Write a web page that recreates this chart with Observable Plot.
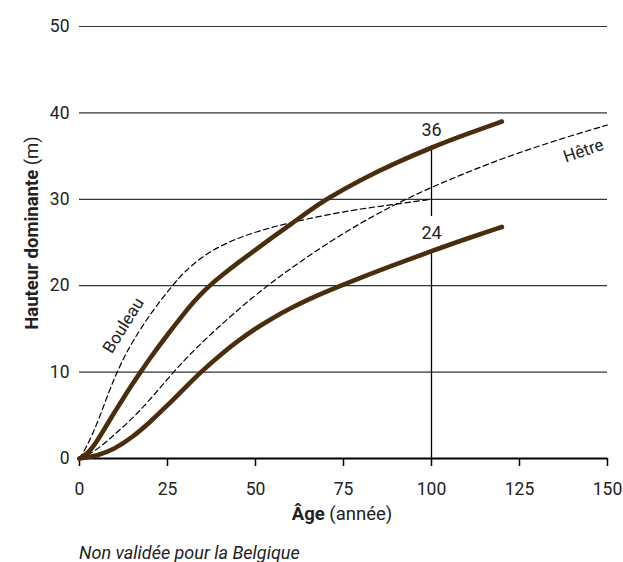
<!DOCTYPE html>
<html><head><meta charset="utf-8">
<script src="https://cdn.jsdelivr.net/npm/d3@7"></script>
<script src="https://cdn.jsdelivr.net/npm/@observablehq/plot@0.6"></script>
<style>
body{margin:0;background:#fff;font-family:Roboto,sans-serif;}
#chart{width:623px;height:562px;position:relative;overflow:hidden}
#chart svg{display:block}
.caption{margin:13px 0 0 79px;font-style:italic;font-size:18px;line-height:20px;color:#222}
</style></head><body><div id="chart"></div>
<script>
// Upper thick curve (reaches 36 m at 100 years)
const upperAge = [0,2.5,5,7.5,10,12.5,15,17.5,20,25,30,32.5,35,37.5,40,45,50,55,60,65,70,80,90,100,110,120];
const upperH   = [0,0.6,2.0,3.7,5.4,7.0,8.6,10.1,11.6,14.35,16.95,18.15,19.25,20.2,21.05,22.65,24.15,25.65,27.1,28.6,30.0,32.3,34.25,36.0,37.55,39.0];
// Lower thick curve (reaches 24 m at 100 years)
const lowerAge = [0,5,10,15,20,25,30,34.4,40,45,50,55,60,65,70,80,90,100,110,120];
const lowerH   = [0,0.3,1.1,2.45,4.2,6.15,8.2,10,12.0,13.6,15.05,16.3,17.4,18.4,19.3,20.95,22.5,24.0,25.45,26.8];
// Bouleau (dashed)
const bouleauAge = [0,2,5,7.5,10,12.5,15,20,26.3,30,35,40,45,50,55,60,70,80,90,100];
const bouleauH   = [0,1.3,4.0,6.8,9.4,11.6,13.5,16.7,20,21.7,23.4,24.6,25.5,26.2,26.8,27.3,28.2,28.9,29.45,30];
// Hêtre (dashed)
const hetreAge = [0,3,7,10,15,20,25,30,35,40,45,50,55,60,70,80,90,100,110,120,130,140,150];
const hetreH   = [0,0.5,1.7,2.8,4.6,6.8,9.2,11.5,13.5,15.4,17.2,18.9,20.5,22.0,24.8,27.3,29.5,31.4,33.1,34.7,36.1,37.4,38.6];

const xTicks = [0,25,50,75,100,125,150];
const yTicks = [0,10,20,30,40,50];
const refAge = 100;
const refValues = [36, 24];
const refSegments = [{y1:0,y2:24},{y1:28,y2:36}];
const refLabelY = [38.0, 26.1];
const speciesLabels = [
  {name:"Hêtre", x:143.2, y:35.6, angle:-19},
  {name:"Bouleau", x:12.5, y:15.4, angle:-58}
];

const toRows = (ages, hs) => ages.map((a,i)=>({age:a, h:hs[i]}));
const upper = toRows(upperAge, upperH);
const lower = toRows(lowerAge, lowerH);
const bouleau = toRows(bouleauAge, bouleauH);
const hetre = toRows(hetreAge, hetreH);

const W = 623, H = 530;
const brown = "#4a2d0c";
const chart = Plot.plot({
  width: W, height: H,
  marginLeft: 79, marginRight: 16, marginTop: 26, marginBottom: H - 458,
  style: {fontFamily: "Roboto, sans-serif", fontSize: "17.5px", color: "#222", background: "white", overflow: "visible"},
  x: {domain: [0,150], label: null},
  y: {domain: [0,50], label: null},
  marks: [
    Plot.gridY(yTicks.filter(d => d > 0), {stroke: "#333", strokeOpacity: 1, strokeWidth: 1.2}),
    Plot.axisY({ticks: yTicks, tickSize: 0, tickPadding: 10, label: null}),
    Plot.axisX({ticks: xTicks, tickSize: 8, tickPadding: 16, label: null, strokeWidth: 1.5, stroke: "#000"}),
    Plot.ruleY([0], {stroke: "#000", strokeWidth: 2.2}),
    Plot.ruleX(refSegments, {x: () => refAge, y1: "y1", y2: "y2", stroke: "#000", strokeWidth: 1.3}),
    Plot.line(bouleau, {x: "age", y: "h", stroke: "#000", strokeWidth: 1.2, strokeDasharray: "5.5,3.5", curve: "basis"}),
    Plot.line(hetre, {x: "age", y: "h", stroke: "#000", strokeWidth: 1.2, strokeDasharray: "5.5,3.5", curve: "basis"}),
    Plot.line(upper, {x: "age", y: "h", stroke: brown, strokeWidth: 4.6, strokeLinecap: "round", curve: "basis"}),
    Plot.line(lower, {x: "age", y: "h", stroke: brown, strokeWidth: 4.6, strokeLinecap: "round", curve: "basis"}),
    Plot.text(refValues, {x: () => refAge, y: (d,i) => refLabelY[i], text: d => String(d), fontSize: 18, fill: "#222"}),
    Plot.text(speciesLabels.slice(0,1), {x: "x", y: "y", text: "name", rotate: speciesLabels[0].angle, fontSize: 17, fill: "#222"}),
    Plot.text(speciesLabels.slice(1,2), {x: "x", y: "y", text: "name", rotate: speciesLabels[1].angle, fontSize: 17, fill: "#222"})
  ]
});
document.getElementById("chart").appendChild(chart);

const svg = d3.select(chart);
const xl = svg.append("text").attr("x", 342).attr("y", 520).attr("text-anchor", "middle")
  .attr("font-size", 18.5).attr("fill", "#222").attr("font-family", "Roboto, sans-serif");
xl.append("tspan").attr("font-weight", "bold").text("Âge");
xl.append("tspan").text(" (année)");
const yl = svg.append("text").attr("transform", "translate(38,233) rotate(-90)").attr("text-anchor", "middle")
  .attr("font-size", 18.5).attr("fill", "#222").attr("font-family", "Roboto, sans-serif");
yl.append("tspan").attr("font-weight", "bold").text("Hauteur dominante");
yl.append("tspan").text(" (m)");

const cap = document.createElement("div");
cap.className = "caption";
cap.textContent = "Non validée pour la Belgique";
document.getElementById("chart").appendChild(cap);
</script>
</body></html>
